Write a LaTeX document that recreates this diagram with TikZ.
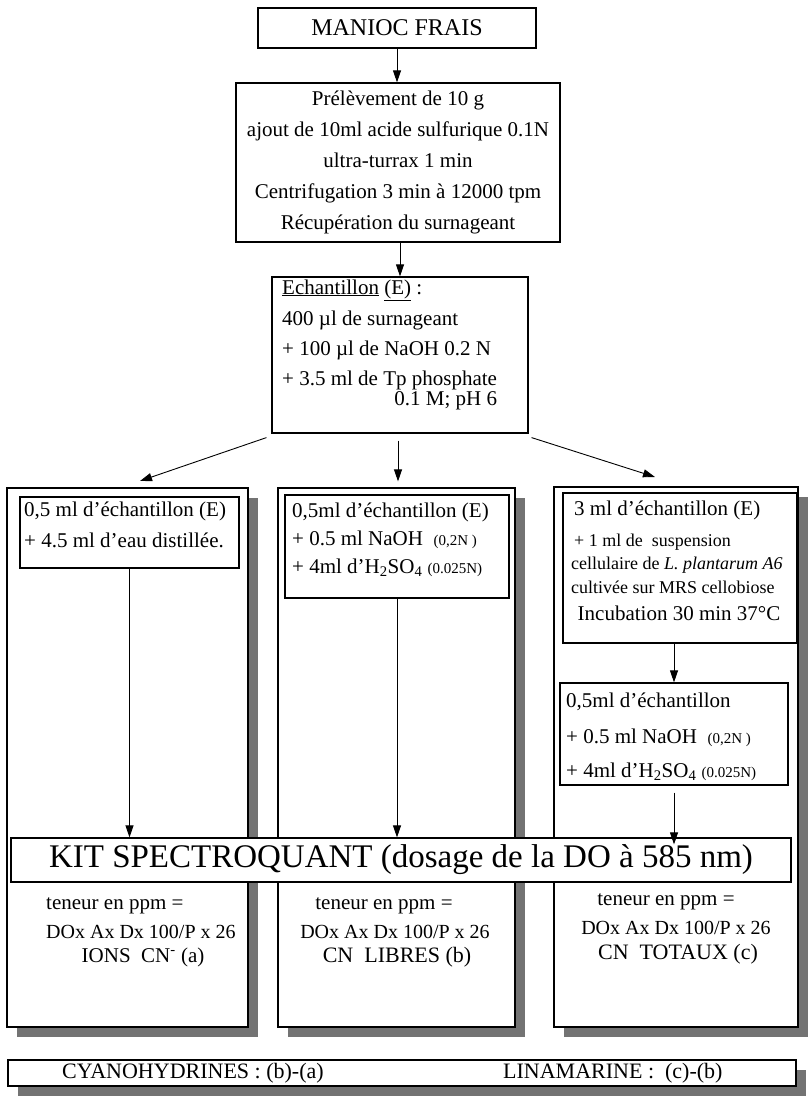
\documentclass[tikz,border=0pt]{standalone}
\usepackage{fontspec}
\setmainfont{Liberation Serif}
\usetikzlibrary{arrows.meta,shadows}
\newcommand\fsz[1]{\fontsize{#1}{#1}\selectfont}
\begin{document}
\begin{tikzpicture}[x=1pt,y=-1pt,
  box/.style={draw,line width=1.2pt,fill=white,inner sep=0pt},
  sh/.style={drop shadow={shadow xshift=10pt,shadow yshift=-10pt,opacity=1,fill=black!55}},
  t/.style={inner sep=0pt,anchor=west},
  tc/.style={inner sep=0pt},
  arr/.style={line width=0.9pt,-{Triangle[length=12pt,width=8pt]}}]
\useasboundingbox (0,0) rectangle (808,1100);
% top boxes
\node[box,minimum width=278pt,minimum height=40pt,font=\fsz{24}] (manioc) at (397,28) {MANIOC FRAIS};
\node[box,minimum width=324pt,minimum height=159pt,align=center,font=\fontsize{21}{31}\selectfont] (prep) at (398,162.5)
 {Prélèvement de 10 g\\ajout de 10ml acide sulfurique 0.1N\\ultra-turrax 1 min\\Centrifugation 3 min à 12000 tpm\\Récupération du surnageant};
\node[box,minimum width=256pt,minimum height=156pt] (ech) at (400,355) {};
\node[t,font=\fsz{21}] (e1) at (282,290) {\underline{Echantillon} \underline{(E)} :};
\node[t,font=\fsz{21}] (e2) at (282,320) {400 µl de surnageant};
\node[t,font=\fsz{21}] (e3) at (282,350) {+ 100 µl de NaOH 0.2 N};
\node[t,font=\fsz{21}] (e4) at (282,380) {+ 3.5 ml de Tp phosphate};
\path (e4.east) ++(0,21) node[tc,anchor=east,font=\fsz{21}] (e5) {0.1 M; pH 6};
% columns
\node[box,sh,minimum width=241pt,minimum height=539pt] (c1) at (127.5,757.5) {};
\node[box,sh,minimum width=237pt,minimum height=539pt] (c2) at (396.5,757.5) {};
\node[box,sh,minimum width=244pt,minimum height=540pt] (c3) at (676,757) {};
% inner boxes
\node[box,minimum width=219pt,minimum height=71pt] (i1) at (129.5,532.5) {};
\node[t,font=\fsz{21}] (i1a) at (24,511) {0,5 ml d'échantillon (E)};
\node[t,font=\fsz{21}] (i1b) at (24,540) {+ 4.5 ml d'eau distillée.};
\node[box,minimum width=224pt,minimum height=103pt] (i2) at (397,546.5) {};
\node[t,font=\fsz{21}] (i2a) at (292,512) {0,5ml d'échantillon (E)};
\node[t,font=\fsz{21}] (i2b) at (292,540) {+ 0.5 ml NaOH~~{\fsz{15}(0,2N )}};
\node[t,font=\fsz{21}] (i2c) at (292,568) {+ 4ml d'H\textsubscript{2}SO\textsubscript{4} {\fsz{15}(0.025N)}};
\node[box,minimum width=234pt,minimum height=150pt] (i3) at (680,568) {};
\node[t,font=\fsz{21}] (i3a) at (574,510) {3 ml d'échantillon (E)};
\node[t,font=\fsz{18}] (i3b) at (574,542) {+ 1 ml de~ suspension};
\node[t,font=\fsz{18}] (i3c) at (571,565) {cellulaire de \textit{L. plantarum A6}};
\node[t,font=\fsz{18}] (i3d) at (571,587) {cultivée sur MRS cellobiose};
\node[tc,font=\fsz{21}] (i3e) at (679,613) {Incubation 30 min 37°C};
\node[box,minimum width=228pt,minimum height=102pt] (i4) at (674,734) {};
\node[t,font=\fsz{21}] (i4a) at (566,702) {0,5ml d'échantillon};
\node[t,font=\fsz{21}] (i4b) at (566,738) {+ 0.5 ml NaOH~~{\fsz{15}(0,2N )}};
\node[t,font=\fsz{21}] (i4c) at (566,772) {+ 4ml d'H\textsubscript{2}SO\textsubscript{4} {\fsz{15}(0.025N)}};
% kit
\node[box,minimum width=780pt,minimum height=44pt,font=\fsz{33}] (kit) at (401,860) {KIT SPECTROQUANT (dosage de la DO à 585 nm)};
% results
\node[t,font=\fsz{21}] (r1a) at (46,906) {teneur en ppm =};
\node[t,font=\fsz{20}] (r1b) at (46,932) {DOx Ax Dx 100/P x 26};
\node[tc,font=\fsz{21}] (r1c) at (143,957) {IONS~ CN\textsuperscript{-} (a)};
\node[tc,font=\fsz{21}] (r2a) at (384,906) {teneur en ppm =};
\node[tc,font=\fsz{20}] (r2b) at (395,932) {DOx Ax Dx 100/P x 26};
\node[tc,font=\fsz{22}] (r2c) at (397,957) {CN~ LIBRES (b)};
\node[tc,font=\fsz{21}] (r3a) at (666,902) {teneur en ppm =};
\node[tc,font=\fsz{20}] (r3b) at (676,928) {DOx Ax Dx 100/P x 26};
\node[tc,font=\fsz{22}] (r3c) at (678,954) {CN~ TOTAUX (c)};
% bottom
\node[box,sh,minimum width=788pt,minimum height=26pt] (bot) at (402,1073) {};
\node[t,font=\fsz{22}] (b1) at (62,1073) {CYANOHYDRINES : (b)-(a)};
\node[t,font=\fsz{22}] (b2) at (503,1073) {LINAMARINE :~ (c)-(b)};
% arrows
\coordinate (t1) at (140,481);
\coordinate (t3) at (655,477);
\draw[arr] (manioc.south) -- (manioc.south |- prep.north);
\draw[arr] (ech.north |- prep.south) -- (ech.north);
\draw[arr] ([xshift=-5pt,yshift=-4pt]ech.south west) -- (t1);
\draw[arr] ([xshift=-2pt,yshift=-7pt]ech.south) -- ([xshift=1.5pt,yshift=6pt]c2.north);
\draw[arr] ([xshift=3pt,yshift=-4pt]ech.south east) -- (t3);
\draw[arr] (i1.south) -- (i1.south |- kit.north);
\draw[arr] (i2.south) -- (i2.south |- kit.north);
\draw[arr] (i4.north |- i3.south) -- (i4.north);
\draw[arr] ([yshift=-7pt]i4.south) -- ([yshift=-7pt]i4.south |- kit.north);
\end{tikzpicture}
\end{document}
